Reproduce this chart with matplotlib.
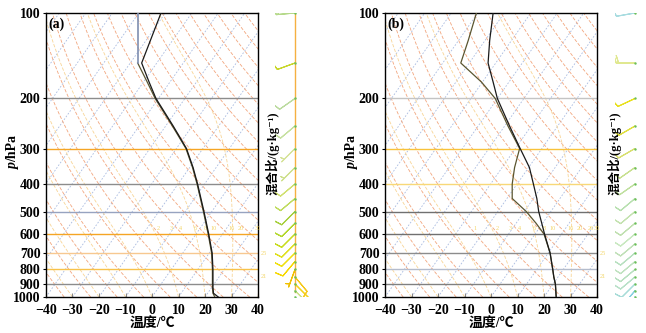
import numpy as np
import matplotlib
matplotlib.use('Agg')
import matplotlib.pyplot as plt

plt.rcParams['font.family'] = ['Liberation Serif', 'Noto Sans CJK SC', 'DejaVu Serif']
plt.rcParams['font.weight'] = 'bold'

SKEW = 75.0  # deg C of shift per decade of pressure

p_ticks = [1000, 900, 800, 700, 600, 500, 400, 300, 200, 100]
t_ticks = [-40, -30, -20, -10, 0, 10, 20, 30, 40]

# profiles, values
p_a = [1000, 970, 925, 900, 850, 800, 700, 600, 500, 400, 350, 300, 250, 200, 175, 150, 100]
t_a = [25.0, 23.2, 23.0, 23.0, 23.0, 23.0, 22.7, 21.4, 19.6, 17.2, 15.5, 13.0, 8.0, 1.5, -1.1, -3.9, 3.4]
td_a = [23.7, 23.0, 22.8, 22.8, 22.8, 22.8, 22.5, 21.2, 19.4, 17.0, 15.3, 12.8, 7.7, 1.2, -1.8, -5.4]
p_top_a = [150, 100]
td_top_a = [-5.4, -5.4]

p_b = [1000, 900, 850, 800, 700, 600, 500, 450, 400, 350, 300, 250, 200, 175, 150, 125, 100]
t_b = [24.6, 24.3, 23.7, 23.3, 22.3, 20.2, 18.0, 17.3, 16.0, 14.5, 11.0, 7.0, 2.4, 0.8, -1.1, -0.5, 0.8]
p_td_b = [1000, 900, 850, 800, 700, 600, 550, 500, 450, 400, 350, 300, 250, 200, 175, 150, 125, 100]
td_b = [24.6, 24.3, 23.7, 23.3, 22.3, 20.0, 17.0, 13.3, 8.0, 8.0, 8.9, 10.8, 6.4, 1.6, -3.6, -11.4, -8.6, -5.5]

# winds
p_wind = [1000, 950, 900, 850, 800, 750, 700, 650, 600, 550, 500, 450, 400, 350, 300, 250, 200, 150, 100]
wdir_a = [140, 135, 135, 140, 200, 220, 225, 225, 225, 225, 225, 230, 230, 225, 225, 230, 235, 250, 265]
wspd_a = [10, 12, 10, 8, 5, 8, 10, 10, 10, 10, 10, 10, 8, 7, 7, 8, 10, 12, 15]
wcol_a = ['#bfe3a8', '#cde28a', '#f2d21a', '#f6c81a', '#f0c000', '#f6d800', '#efe010', '#dfe020',
          '#c8dc20', '#b4d830', '#a8d040', '#c0dc60', '#d0e070', '#cfe08f', '#d6e39a', '#c6e0a0',
          '#bcdba0', '#c8d62a', '#b5d98a']
wdir_b = [210, 220, 225, 230, 230, 230, 230, 230, 230, 230, 230, 230, 235, 235, 240, 240, 245, 270, 260]
wspd_b = [8, 10, 12, 12, 12, 12, 12, 10, 10, 8, 8, 10, 10, 10, 10, 10, 12, 20, 8]
wcol_b = ['#6cc6e0', '#88d0e0', '#a8dcd8', '#b8e0c8', '#b8e0c0', '#c0e2c0', '#b8e0c0', '#c0e0b8',
          '#c8e8c0', '#c0e0b0', '#c4e2b0', '#b8e0b0', '#c0e0a0', '#c8e090', '#d8e070', '#e0e040',
          '#e8e020', '#e0e890', '#a8dce0']

# mixing ratio labels (g/kg)
w_lab_a = [2, 3, 4, 6, 8, 10, 16, 20, 30]
w_lab_b = [1, 2, 3, 4, 6, 8, 10, 16, 20, 26, 30]

# horizontal level line colours
lev_a = {200: '#8c8c8c', 300: '#f5a524', 400: '#8c8c8c', 500: '#97a3c0',
         600: '#f5a524', 700: '#f7c890', 800: '#f8c24a', 900: '#8c8c8c'}
lev_b = {200: '#c4c4c4', 300: '#f8c23a', 400: '#f8d878', 500: '#707070',
         600: '#707070', 700: '#8c8c8c', 800: '#b4bccc', 900: '#808080'}


def skew(t, p):
    return np.asarray(t) + SKEW * np.log10(1000.0 / np.asarray(p))


def es(tc):
    return 6.112 * np.exp(17.67 * tc / (tc + 243.5))


def moist(t0, pp):
    Rd, cp, Lv, eps = 287.0, 1004.0, 2.5e6, 0.622

    def dtdp(T, p):
        e = es(T - 273.15)
        rs = eps * e / (p - e)
        return (Rd * T + Lv * rs) / (p * (cp + Lv ** 2 * rs * eps / (Rd * T ** 2)))

    T = t0 + 273.15
    out = [T]
    for i in range(1, len(pp)):
        dp = pp[i] - pp[i - 1]
        k1 = dtdp(T, pp[i - 1])
        k2 = dtdp(T + k1 * dp / 2, pp[i - 1] + dp / 2)
        T = T + k2 * dp
        out.append(T)
    return np.array(out) - 273.15


def td_from_w(w, p):
    e = w / 1000.0 * p / (0.622 + w / 1000.0)
    a = np.log(e / 6.112)
    return 243.5 * a / (17.67 - a)


pp = np.logspace(3, 2, 120)

fig = plt.figure(figsize=(6.46, 3.33), dpi=100)


def panel(left, tag, p, t, p_td, td, lev, wdir, wspd, wcol, wlab, barb_x, pole):
    ax = fig.add_axes([left / 646, 1 - 297 / 333, 212 / 646, 284 / 333])
    ax.set_yscale('log')
    ax.set_xlim(-40, 40)
    ax.set_ylim(1000, 100)

    for T in range(-140, 50, 10):
        ax.plot(skew(np.full_like(pp, T), pp), pp, color='#a9bbe0', lw=0.6,
                ls=(0, (2, 2)), zorder=1)
    for th in range(230, 500, 10):
        ax.plot(skew(th * (pp / 1000.0) ** 0.2857 - 273.15, pp), pp, color='#f2a67e',
                lw=0.6, ls=(0, (4, 2)), zorder=1)
    for t0 in range(-40, 70, 10):
        ax.plot(skew(moist(t0, pp), pp), pp, color='#f8d596', lw=0.6,
                ls=(0, (4, 2)), zorder=1)

    for lv, c in lev.items():
        ax.axhline(lv, color=c, lw=1.0, zorder=2)

    for w in wlab:
        ax.text(skew(td_from_w(w, 584), 584), 584, str(w), fontsize=4.5, color='#f3d66a',
                ha='center', va='bottom', fontweight='normal', zorder=3)
    ax.text(41, 705, '25', fontsize=4.5, color='#f3d66a', fontweight='normal',
            va='center', clip_on=False)
    ax.text(41, 845, '21', fontsize=4.5, color='#f3d66a', fontweight='normal',
            va='center', clip_on=False)

    ax.plot(td, p_td, color='#5a5530', lw=0.9, zorder=4)
    ax.plot(t, p, color='#1a1a1a', lw=0.9, zorder=5)

    ax.yaxis.set_major_locator(matplotlib.ticker.FixedLocator(p_ticks))
    ax.yaxis.set_major_formatter(matplotlib.ticker.FixedFormatter([str(v) for v in p_ticks]))
    ax.yaxis.set_minor_locator(matplotlib.ticker.NullLocator())
    ax.set_xticks(t_ticks)
    ax.tick_params(axis='x', direction='in', length=3, color='#888888', pad=5, labelsize=10)
    ax.tick_params(axis='y', length=2, pad=2, labelsize=10)
    ax.set_xlabel('温度/℃', fontsize=10, fontweight='bold', labelpad=0)

    # y label: italic p followed by upright /hPa, read bottom to top
    lx = (left - 33) / 646
    ly = 1 - 162 / 333
    fig.text(lx, ly, 'p', rotation=90, rotation_mode='anchor', ha='right', va='center',
             fontsize=10, style='italic', fontweight='bold')
    fig.text(lx, ly, '/hPa', rotation=90, rotation_mode='anchor', ha='left', va='center',
             fontsize=10, fontweight='bold')

    ax.text(0.012, 0.985, tag, transform=ax.transAxes, fontsize=10, ha='left', va='top')
    for s in ax.spines.values():
        s.set_linewidth(1.0)

    bax = fig.add_axes([(barb_x - 20) / 646, 1 - 297 / 333, 40 / 646, 284 / 333])
    bax.set_yscale('log')
    bax.set_ylim(1000, 100)
    bax.set_xlim(-1, 1)
    bax.axis('off')
    if pole:
        bax.plot([0, 0], [960, 100], color='#f5b041', lw=1.0, zorder=1)
    d = np.radians(wdir)
    u = -np.asarray(wspd) * np.sin(d)
    v = -np.asarray(wspd) * np.cos(d)
    bax.barbs(np.zeros(len(p_wind)), p_wind, u, v, barbcolor=wcol, flagcolor=wcol,
              length=5.2, linewidth=0.8, zorder=2)
    bax.scatter(np.zeros(len(p_wind)), p_wind, s=3, color='#6cbf5a', zorder=3, lw=0)
    return ax


ax_a = panel(46, '(a)', p_a, t_a, p_a[:len(td_a)], td_a, lev_a, wdir_a, wspd_a, wcol_a,
             w_lab_a, 295, True)
ax_a.plot(td_top_a, p_top_a, color='#7f8fb0', lw=1.2, zorder=4)
panel(385, '(b)', p_b, t_b, p_td_b, td_b, lev_b, wdir_b, wspd_b, wcol_b, w_lab_b, 635, False)

fig.text(273 / 646, 1 - 153 / 333, '混合比/(g·kg⁻¹)', rotation=90, fontsize=9,
         fontweight='bold', ha='center', va='center')
fig.text(615 / 646, 1 - 153 / 333, '混合比/(g·kg⁻¹)', rotation=90, fontsize=9,
         fontweight='bold', ha='center', va='center')

fig.savefig('out.png', dpi=100)
